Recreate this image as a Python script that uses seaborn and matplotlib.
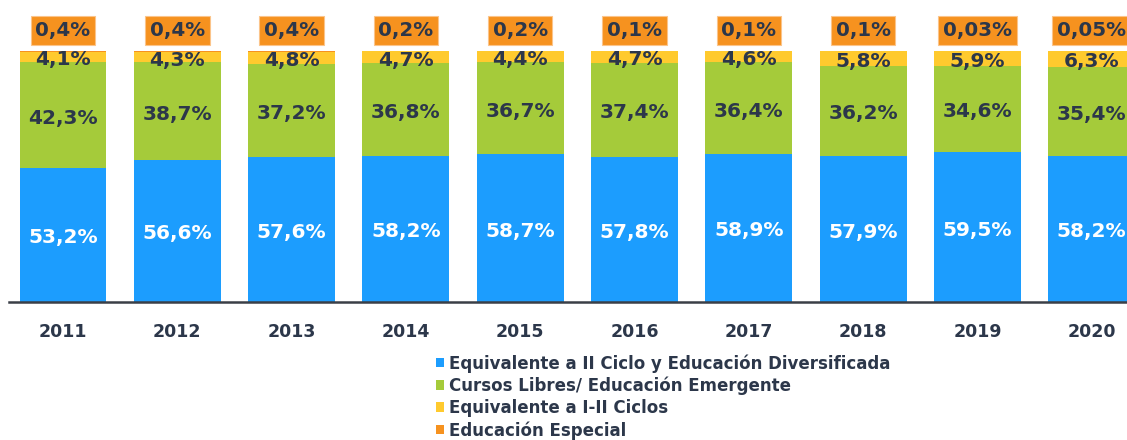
import numpy as np
import matplotlib
matplotlib.use("Agg")
import matplotlib.pyplot as plt
import seaborn as sns
from matplotlib.patches import Patch

# Distribución por modalidad (%), 2011-2020
years = ["2011", "2012", "2013", "2014", "2015", "2016", "2017", "2018", "2019", "2020"]
diversificada = [53.2, 56.6, 57.6, 58.2, 58.7, 57.8, 58.9, 57.9, 59.5, 58.2]
cursos_libres = [42.3, 38.7, 37.2, 36.8, 36.7, 37.4, 36.4, 36.2, 34.6, 35.4]
ciclos_i_ii = [4.1, 4.3, 4.8, 4.7, 4.4, 4.7, 4.6, 5.8, 5.9, 6.3]
especial = [0.4, 0.4, 0.4, 0.2, 0.2, 0.1, 0.1, 0.1, 0.03, 0.05]

series_names = [
    "Equivalente a II Ciclo y Educación Diversificada",
    "Cursos Libres/ Educación Emergente",
    "Equivalente a I-II Ciclos",
    "Educación Especial",
]
colors = ["#1C9DFE", "#A5CB3A", "#FFCA2E", "#F6921F"]
text_dark = "#2C374A"

sns.set_theme(style="white")
plt.rcParams["font.family"] = ["DejaVu Sans"]

W, H = 1127, 440
fig = plt.figure(figsize=(W / 100, H / 100), dpi=100)
ax = fig.add_axes([9 / W, (H - 301.7) / H, (W - 9) / W, 301.7 / H])

layers = np.array([diversificada, cursos_libres, ciclos_i_ii, especial])
cum = np.cumsum(layers, axis=0)

# stacked bars: draw cumulative totals from the top layer down
for k in reversed(range(len(layers))):
    sns.barplot(x=years, y=cum[k], color=colors[k], width=0.76, saturation=1,
                errorbar=None, linewidth=0, ax=ax)

ax.set_xlim(-0.472, 9.309)
ax.set_ylim(0, 120.2)


def fmt(v):
    return f"{v:g}".replace(".", ",") + "%"


label_drop = 1.2  # labels sit slightly below the segment middle
for i in range(len(years)):
    for k in range(3):
        mid = cum[k][i] - layers[k][i] / 2 - label_drop
        ax.text(i, mid, fmt(layers[k][i]), ha="center", va="center",
                fontsize=14.5, fontweight="bold",
                color="white" if k == 0 else text_dark)
    ax.text(i, 108.0, fmt(especial[i]), ha="center", va="center",
            fontsize=14.3, fontweight="bold", color=text_dark,
            bbox=dict(boxstyle="square,pad=0.24", facecolor=colors[3],
                      edgecolor="#FBC48A", linewidth=0.8))

ax.set_xticks(range(len(years)))
ax.set_xticklabels(years, fontsize=12.5, fontweight="bold", color=text_dark)
ax.tick_params(axis="x", length=0, pad=15)
ax.set_yticks([])
ax.set_xlabel("")
ax.set_ylabel("")
for side in ["left", "right", "top"]:
    ax.spines[side].set_visible(False)
ax.spines["bottom"].set_color("#3A3F47")
ax.spines["bottom"].set_linewidth(1.8)

handles = [Patch(facecolor=c, edgecolor="none") for c in colors]
fig.legend(handles, series_names, loc="upper left",
           bbox_to_anchor=(436 / W, 1 - 354 / H), frameon=False,
           prop={"family": "DejaVu Sans", "weight": "bold", "size": 12},
           labelcolor=text_dark, handlelength=0.5, handleheight=0.5,
           handletextpad=0.3, labelspacing=0.24, borderpad=0, borderaxespad=0)

fig.savefig("out.png", dpi=100)
